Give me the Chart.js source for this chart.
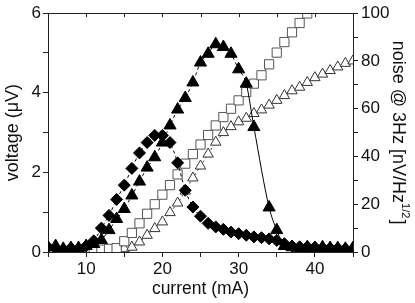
<!DOCTYPE html>
<html>
<head>
<meta charset="utf-8">
<script src="https://cdn.jsdelivr.net/npm/chart.js@4/dist/chart.umd.min.js"></script>
<style>
html,body{margin:0;padding:0;background:#fff;}
#wrap{width:415px;height:303px;position:relative;}
</style>
</head>
<body>
<div id="wrap"><canvas id="c" width="415" height="303"></canvas></div>
<script>
// ---- data ----
const current = [5,6,7,8,9,10,11,12,13,14,15,16,17,18,19,20,21,22,23,24,25,26,27,28,29,30,31,32,33,34,35,36,37,38,39,40,41,42,43,44,45];
// voltage (uV), filled diamonds
const voltageDiamond = [0.12,0.08,0.06,0.1,0.08,0.15,0.28,0.6,0.92,1.32,1.68,2.1,2.49,2.75,2.93,2.93,2.75,2.24,1.55,1.13,0.9,0.72,0.63,0.57,0.5,0.46,0.42,0.38,0.36,0.33,0.29,0.21,0.15,0.13,0.13,0.12,0.1,0.1,0.09,0.08,0.08];
// voltage (uV), filled triangles
const voltageTriangle = [0.12,0.15,0.08,0.1,0.1,0.15,0.2,0.3,0.55,0.83,1.08,1.42,1.77,2.12,2.38,2.75,3.18,3.58,3.87,4.26,4.76,4.98,5.22,5.15,4.98,4.59,4.23,3.14,null,1.12,0.55,0.15,0.12,0.1,0.12,0.1,0.12,0.1,0.1,0.08,0.1];
// noise (nV/Hz^1/2), open squares
const noiseSquare = [null,null,null,null,null,null,0.8,1.0,1.3,1.6,4.5,8,12,16,20,24,28,32.5,37,41,45,49,53,56.5,60,63.5,67,70.5,74,78.6,83.5,87.9,92,95.9,99.9,null,null,null,null,null,null];
// noise (nV/Hz^1/2), open triangles
const noiseTriangle = [null,null,null,null,null,null,null,null,0.5,0.8,1.4,2,4.2,7,9.8,12.6,16.5,20.5,25.5,31,36,41,46,50,52.5,54.5,56,58,59.5,61.5,63.5,65.5,67.5,69,71,73,74.5,76,77.5,79,80];
// axes
const xTicks = [10,20,30,40];
const yLeftTicks = [0,2,4,6];
const yRightTicks = [0,20,40,60,80,100];

const FONT = "'Liberation Sans', Arial, Helvetica, sans-serif";

function pts(xs, ys){
  const out = [];
  for (let i=0;i<xs.length;i++){ if (ys[i]!==null) out.push({x:xs[i], y:ys[i]}); }
  return out;
}

const framePlugin = {
  id:'frame',
  afterDatasetsDraw(chart){
    const {ctx, chartArea:a, scales} = chart;
    const xs = scales.x;
    ctx.save();
    ctx.strokeStyle = '#222';
    ctx.lineWidth = 1;
    ctx.beginPath();
    ctx.moveTo(a.left, Math.round(a.top)+0.5);
    ctx.lineTo(a.right, Math.round(a.top)+0.5);
    for (let v=10; v<45; v+=5){
      const px = Math.round(xs.getPixelForValue(v))+0.5;
      ctx.moveTo(px, a.top);
      ctx.lineTo(px, a.top+4);
    }
    ctx.stroke();
    // right axis title with superscript
    const cy = (a.top + a.bottom)/2;
    const main = 'noise @ 3Hz [nV/Hz';
    const sup = '1/2';
    const end = ']';
    ctx.fillStyle = '#111';
    ctx.font = '18px ' + FONT;
    const wMain = ctx.measureText(main).width;
    const wEnd = ctx.measureText(end).width;
    ctx.font = '11px ' + FONT;
    const wSup = ctx.measureText(sup).width;
    const total = wMain + wSup + wEnd + 1;
    ctx.translate(398, cy);
    ctx.rotate(Math.PI/2);
    ctx.textBaseline = 'middle';
    ctx.textAlign = 'left';
    let x0 = -total/2;
    ctx.font = '18px ' + FONT;
    ctx.fillText(main, x0, 0);
    ctx.font = '11px ' + FONT;
    ctx.fillText(sup, x0 + wMain, -7);
    ctx.font = '18px ' + FONT;
    ctx.fillText(end, x0 + wMain + wSup + 1, 0);
    ctx.restore();
  }
};

new Chart(document.getElementById('c'), {
  type:'line',
  data:{
    datasets:[
      {label:'V diamonds', data:pts(current, voltageDiamond), yAxisID:'y',
       pointStyle:'rectRot', pointRadius:6, pointBackgroundColor:'#000', pointBorderColor:'#000', pointBorderWidth:1,
       borderColor:'#000', borderWidth:1, borderDash:[3,3], tension:0.3, clip:0},
      {label:'V triangles', data:pts(current, voltageTriangle), yAxisID:'y',
       pointStyle:'triangle', pointRadius:7, pointBackgroundColor:'#000', pointBorderColor:'#000', pointBorderWidth:1,
       borderColor:'#000', borderWidth:1, borderDash:[3,3], cubicInterpolationMode:'monotone', spanGaps:true, clip:0,
       segment:{borderDash: c => (c.p0.parsed.x >= 31 ? [] : [3,3])}},
      {label:'N squares', data:pts(current, noiseSquare), yAxisID:'y2',
       pointStyle:'rect', pointRadius:6.5, pointBackgroundColor:'#fff', pointBorderColor:'#555', pointBorderWidth:1,
       borderColor:'#555', borderWidth:1, borderDash:[2,3], tension:0, clip:0},
      {label:'N triangles', data:pts(current, noiseTriangle), yAxisID:'y2',
       pointStyle:'triangle', pointRadius:6, pointBackgroundColor:'#fff', pointBorderColor:'#333', pointBorderWidth:1,
       borderColor:'#333', borderWidth:1, borderDash:[2,3], tension:0, clip:0}
    ]
  },
  options:{
    responsive:false, animation:false, devicePixelRatio:1,
    layout:{padding:{top:13, left:0, right:0, bottom:0}},
    plugins:{legend:{display:false}, tooltip:{enabled:false}},
    elements:{line:{fill:false}},
    scales:{
      x:{type:'linear', position:'bottom', min:5, max:45,
        afterFit(s){ s.height = 51; },
        afterBuildTicks(s){ const t=[]; for(let v=5; v<=45; v+=5) t.push({value:v}); s.ticks=t; },
        ticks:{callback:v => xTicks.includes(v) ? String(v) : '', font:{family:FONT, size:17}, color:'#111', padding:2, maxRotation:0, autoSkip:false},
        grid:{drawOnChartArea:false, drawTicks:true, tickLength:5, color:'#222'},
        border:{display:true, color:'#222', width:1},
        title:{display:true, text:'current (mA)', font:{family:FONT, size:17.5}, color:'#111', padding:{top:0,bottom:3}}
      },
      y:{type:'linear', position:'left', min:0, max:6,
        afterFit(s){ s.width = 48; },
        afterBuildTicks(s){ const t=[]; for(let v=0; v<=6; v++) t.push({value:v}); s.ticks=t; },
        ticks:{callback:v => yLeftTicks.includes(v) ? String(v) : '', font:{family:FONT, size:17}, color:'#111', padding:2, autoSkip:false},
        grid:{drawOnChartArea:false, drawTicks:true, tickLength:5, color:'#222'},
        border:{display:true, color:'#222', width:1},
        title:{display:true, text:'voltage (\u03BCV)', font:{family:FONT, size:18}, color:'#111', padding:{top:2,bottom:0}}
      },
      y2:{type:'linear', position:'right', min:0, max:100,
        afterFit(s){ s.width = 62; },
        afterBuildTicks(s){ const t=[]; for(let v=0; v<=100; v+=10) t.push({value:v}); s.ticks=t; },
        ticks:{callback:v => yRightTicks.includes(v) ? String(v) : '', font:{family:FONT, size:17}, color:'#111', padding:3, autoSkip:false},
        grid:{drawOnChartArea:false, drawTicks:true, tickLength:5, color:'#222'},
        border:{display:true, color:'#222', width:1},
        title:{display:false}
      }
    }
  },
  plugins:[framePlugin]
});
</script>
</body>
</html>
